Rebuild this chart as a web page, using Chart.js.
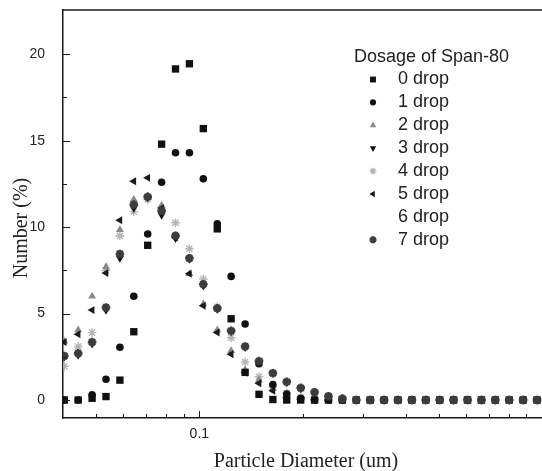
<!DOCTYPE html>
<html>
<head>
<meta charset="utf-8">
<script src="https://cdn.jsdelivr.net/npm/chart.js@4.4.1/dist/chart.umd.min.js"></script>
<style>
  html, body { margin: 0; padding: 0; background: #fff; overflow: hidden; }
  #wrap { width: 542px; height: 471px; position: relative; }
</style>
</head>
<body>
<div id="wrap"><canvas id="psd"></canvas></div>
<script>
/* ─── Particle size distribution vs. Span-80 dosage ───────────── */

// bin centres (um)
const diameters = [
  0.04034, 0.04429, 0.04864, 0.05340, 0.05863, 0.06437, 0.07068, 0.07760, 0.08520, 0.09354,
  0.1027, 0.1128, 0.1238, 0.1360, 0.1493, 0.1639, 0.1799, 0.1976, 0.2169, 0.2381,
  0.2615, 0.2871, 0.3152, 0.3460, 0.3799, 0.4171, 0.4580, 0.5029, 0.5521, 0.6062,
  0.6656, 0.7308, 0.8024, 0.8810, 0.9672
];

// number (%) per bin, one array per dosage
const drop0 = [0, 0, 0.1, 0.2, 1.15, 3.95, 8.95, 14.8, 19.15, 19.45, 15.7, 9.9, 4.7, 1.6, 0.33, 0.03, 0, 0, 0, 0, 0, 0, 0, 0, 0, 0, 0, 0, 0, 0, 0, 0, 0, 0, 0];
const drop1 = [0, 0, 0.3, 1.2, 3.05, 6.0, 9.6, 12.6, 14.3, 14.3, 12.8, 10.2, 7.15, 4.4, 2.1, 0.9, 0.35, 0.1, 0, 0, 0, 0, 0, 0, 0, 0, 0, 0, 0, 0, 0, 0, 0, 0, 0];
const drop2 = [3.4, 4.05, 6.0, 7.7, 9.85, 11.6, 11.8, 11.25, 9.5, 7.3, 5.55, 4.05, 2.85, 1.75, 1.15, 0.65, 0.3, 0.1, 0, 0, 0, 0, 0, 0, 0, 0, 0, 0, 0, 0, 0, 0, 0, 0, 0];
const drop3 = [2.5, 2.6, 3.25, 5.2, 8.2, 11.1, 11.7, 10.7, 9.35, 8.15, 6.6, 5.25, 3.95, 3.05, 2.2, 1.55, 1.02, 0.66, 0.42, 0.22, 0.08, 0, 0, 0, 0, 0, 0, 0, 0, 0, 0, 0, 0, 0, 0];
const drop4 = [1.95, 3.1, 3.9, 7.5, 9.5, 10.9, 11.6, 11.0, 10.25, 8.75, 7.0, 5.4, 3.6, 2.2, 1.35, 0.75, 0.4, 0.15, 0.05, 0, 0, 0, 0, 0, 0, 0, 0, 0, 0, 0, 0, 0, 0, 0, 0];
const drop5 = [3.35, 3.8, 5.2, 7.35, 10.4, 12.65, 12.85, 11.1, 9.4, 7.3, 5.45, 3.9, 2.65, 1.58, 0.97, 0.54, 0.15, 0.03, 0, 0, 0, 0, 0, 0, 0, 0, 0, 0, 0, 0, 0, 0, 0, 0, 0];
const drop6 = [];  // no marks visible for this dosage
const drop7 = [2.55, 2.7, 3.35, 5.35, 8.45, 11.3, 11.75, 10.95, 9.5, 8.2, 6.7, 5.3, 4.0, 3.1, 2.25, 1.55, 1.05, 0.7, 0.45, 0.22, 0.08, 0, 0, 0, 0, 0, 0, 0, 0, 0, 0, 0, 0, 0, 0];

const seriesLabels = ['0 drop', '1 drop', '2 drop', '3 drop', '4 drop', '5 drop', '6 drop', '7 drop'];
const seriesValues = [drop0, drop1, drop2, drop3, drop4, drop5, drop6, drop7];

const yTicks = [0, 5, 10, 15, 20];
const yMinorTicks = [2.5, 7.5, 12.5, 17.5];
const xTicks = [0.1];
const xMinorTicks = [0.05, 0.06, 0.07, 0.08, 0.09, 0.2, 0.3, 0.4, 0.5, 0.6, 0.7, 0.8, 0.9];

// marker look per series
const markers = [
  { style: 'rect',     rot: 0,   r: 5.2, color: '#111', bw: 0 },
  { style: 'circle',   rot: 0,   r: 3.8, color: '#111', bw: 0 },
  { style: 'triangle', rot: 0,   r: 4.6, color: '#8a8a8a', bw: 0 },
  { style: 'triangle', rot: 180, r: 4.6, color: '#111', bw: 0 },
  { style: 'star',     rot: 0,   r: 4.3, color: '#b4b4b4', bw: 1.4 },
  { style: 'triangle', rot: -90, r: 4.6, color: '#1a1a1a', bw: 0 },
  { style: 'circle',   rot: 0,   r: 0,   color: 'rgba(0,0,0,0)', bw: 0 },
  { style: 'star',     rot: 0,   r: 4.3, color: '#3c3c3c', bw: 2.6 }
];
// drawing order: lower = on top
const drawOrder = [2, 3, 6, 4, 7, 5, 8, 1];

const SANS = "'Liberation Sans', Arial, sans-serif";
const SERIF = "'Liberation Serif', 'Times New Roman', serif";

const datasets = seriesLabels.map((label, i) => ({
  label,
  data: seriesValues[i].map((v, j) => ({ x: diameters[j], y: v })),
  pointStyle: markers[i].style,
  rotation: markers[i].rot,
  pointRadius: markers[i].r,
  backgroundColor: markers[i].color,
  borderColor: markers[i].color,
  borderWidth: markers[i].bw,
  showLine: false,
  order: drawOrder[i]
}));

// frame, inward ticks, axis titles and the legend
const decorations = {
  id: 'decorations',
  afterDraw(chart) {
    const { ctx, chartArea: a, scales: { x, y } } = chart;
    ctx.save();
    ctx.strokeStyle = '#1a1a1a';
    ctx.lineWidth = 1.5;
    ctx.beginPath();
    ctx.moveTo(a.left, a.top);
    ctx.lineTo(a.right, a.top);
    ctx.stroke();

    ctx.lineWidth = 1;
    const tick = (x1, y1, x2, y2) => { ctx.beginPath(); ctx.moveTo(x1, y1); ctx.lineTo(x2, y2); ctx.stroke(); };
    yTicks.forEach(v => { const p = Math.round(y.getPixelForValue(v)) + 0.5; tick(a.left, p, a.left + 7, p); });
    yMinorTicks.forEach(v => { const p = Math.round(y.getPixelForValue(v)) + 0.5; tick(a.left, p, a.left + 4, p); });
    xTicks.forEach(v => { const p = Math.round(x.getPixelForValue(v)) + 0.5; tick(p, a.bottom, p, a.bottom - 7); });
    xMinorTicks.forEach(v => { const p = Math.round(x.getPixelForValue(v)) + 0.5; tick(p, a.bottom, p, a.bottom - 4); });

    // axis titles
    ctx.fillStyle = '#222';
    ctx.font = '20px ' + SERIF;
    ctx.textAlign = 'center';
    ctx.textBaseline = 'middle';
    ctx.fillText('Particle Diameter (um)', 306, 462);
    ctx.save();
    ctx.translate(22, 228);
    ctx.rotate(-Math.PI / 2);
    ctx.fillText('Number (%)', 0, 0);
    ctx.restore();

    // legend
    ctx.textAlign = 'left';
    ctx.font = '18px ' + SANS;
    ctx.fillText('Dosage of Span-80', 354, 57);
    seriesLabels.forEach((label, i) => {
      const ry = 79.5 + i * 22.9;
      ctx.fillStyle = '#222';
      ctx.fillText(label, 398, ry);
      const m = markers[i];
      if (m.r > 0) {
        ctx.fillStyle = m.color;
        ctx.strokeStyle = m.color;
        ctx.lineWidth = m.bw;
        Chart.helpers.drawPoint(ctx, { pointStyle: m.style, rotation: m.rot, radius: m.r * 0.8, borderWidth: m.bw }, 373, ry);
      }
    });
    ctx.restore();
  }
};

Chart.defaults.font.family = SANS;

new Chart(document.getElementById('psd'), {
  type: 'scatter',
  data: { datasets },
  options: {
    responsive: true,
    maintainAspectRatio: false,
    animation: false,
    events: [],
    layout: { autoPadding: false, padding: { top: 10, right: -7, left: 0, bottom: 0 } },
    plugins: { legend: { display: false }, tooltip: { enabled: false } },
    scales: {
      x: {
        type: 'logarithmic',
        min: 0.04,
        max: 1,
        grid: { display: false },
        border: { display: true, color: '#1a1a1a', width: 1.5 },
        afterBuildTicks: s => { s.ticks = xTicks.map(v => ({ value: v })); },
        afterFit: s => { s.height = 53; s.paddingLeft = 0; s.paddingRight = 0; },
        ticks: {
          autoSkip: false,
          maxRotation: 0,
          padding: 0,
          color: '#222',
          font: { size: 14 },
          callback: v => String(v)
        }
      },
      y: {
        min: -1.04,
        max: 22.56,
        grid: { display: false },
        border: { display: true, color: '#1a1a1a', width: 1.5 },
        afterBuildTicks: s => { s.ticks = yTicks.map(v => ({ value: v })); },
        afterFit: s => { s.width = 63; s.paddingTop = 0; s.paddingBottom = 0; },
        ticks: {
          padding: 10,
          color: '#222',
          font: { size: 14 }
        }
      }
    }
  },
  plugins: [decorations]
});
</script>
</body>
</html>
